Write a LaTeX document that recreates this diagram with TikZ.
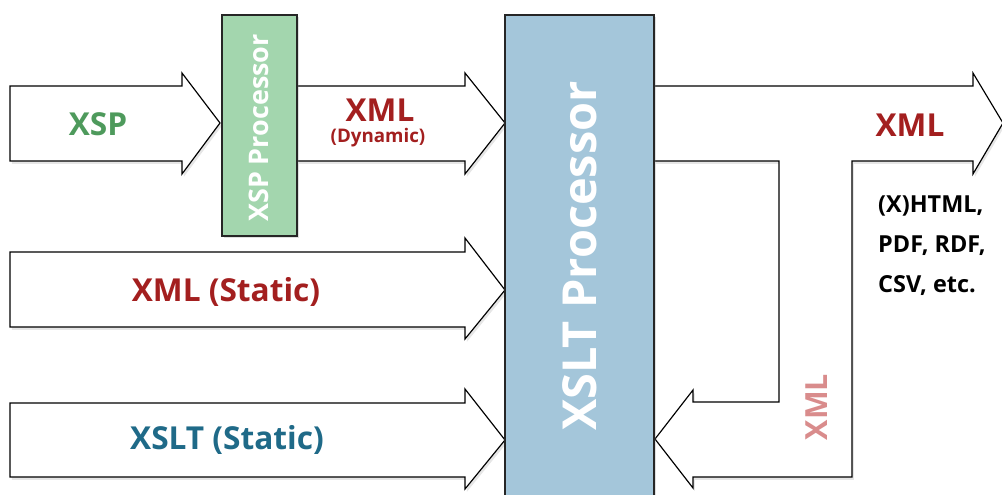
\documentclass[tikz,border=0pt]{standalone}
\usepackage{fontspec}
\setmainfont{Open Sans}
\usepackage{xcolor}
\definecolor{xsp-green}{HTML}{4E9A5C}
\definecolor{xml-red}{HTML}{A31F1F}
\definecolor{xml-pink}{HTML}{D98C8C}
\definecolor{xslt-teal}{HTML}{1F6A88}
\definecolor{box-green}{HTML}{A3D6AE}
\definecolor{box-blue}{HTML}{A4C6DA}
\usetikzlibrary{shadows}

\begin{document}
\begin{tikzpicture}[x=0.03cm, y=-0.03cm,
    every node/.style={font=\bfseries},
    flow/.style={draw=black, line width=1pt, fill=white,
      drop shadow={opacity=0.2, shadow xshift=1.5pt, shadow yshift=-2.5pt}},
    proc/.style={draw=black!85, line width=1pt,
      drop shadow={opacity=0.25, shadow xshift=1.5pt, shadow yshift=-2pt}},
    label/.style={font=\bfseries\fontsize{27}{30}\selectfont}]
    \useasboundingbox (0,0) rectangle (1002,494);
    % input arrows
    \draw[flow] (10,86) -- (182,86) -- (182,73) -- (220,123) -- (182,174) -- (182,161) -- (10,161) -- cycle;
    \draw[flow] (297,86) -- (465,86) -- (465,73) -- (505,123) -- (465,174) -- (465,161) -- (297,161);
    \draw[flow] (10,252) -- (465,252) -- (465,238) -- (505,290) -- (465,339) -- (465,327) -- (10,327) -- cycle;
    \draw[flow] (10,403) -- (465,403) -- (465,389) -- (505,440) -- (465,489) -- (465,477) -- (10,477) -- cycle;
    % output arrow with feedback loop
    \draw[flow] (654,86) -- (973,86) -- (973,73) -- (1003,123) -- (973,174) -- (973,161)
      -- (852,161) -- (852,477) -- (693,477) -- (693,488) -- (655,439) -- (693,390)
      -- (693,402) -- (779,402) -- (779,161) -- (654,161);
    % processors
    \draw[proc, fill=box-green] (222,15) rectangle (297,236);
    \draw[proc, fill=box-blue] (505,15) rectangle (654,510);
    \node[font=\bfseries\fontsize{23}{26}\selectfont, white, rotate=90] (xspproc) at (259,128) {XSP Processor};
    \node[font=\bfseries\fontsize{40}{44}\selectfont, white, rotate=90] (xsltproc) at (580,256) {XSLT Processor};
    % labels
    \node[label, xml-red, inner sep=0pt] (xmldyn) at (380,110) {XML};
    \node[font=\bfseries\fontsize{16}{18}\selectfont, xml-red, inner sep=0pt] (dyn) at (378,138) {(Dynamic)};
    \node[label, xsp-green] (xsp) at (98,124) {XSP};
    \node[label, xml-red] (xmlstat) at (226,292) {XML (Static)};
    \node[label, xslt-teal] (xsltstat) at (227,440) {XSLT (Static)};
    \node[label, xml-red] (xmlout) at (910,125) {XML};
    \node[font=\bfseries\fontsize{26}{30}\selectfont, xml-pink, rotate=90] (xmlback) at (817,407) {XML};
    \node[font=\bfseries\fontsize{20}{34}\selectfont, align=left, anchor=north west, inner sep=0pt] (formats) at (878,196) {(X)HTML,\\PDF, RDF,\\CSV, etc.};
\end{tikzpicture}
\end{document}
